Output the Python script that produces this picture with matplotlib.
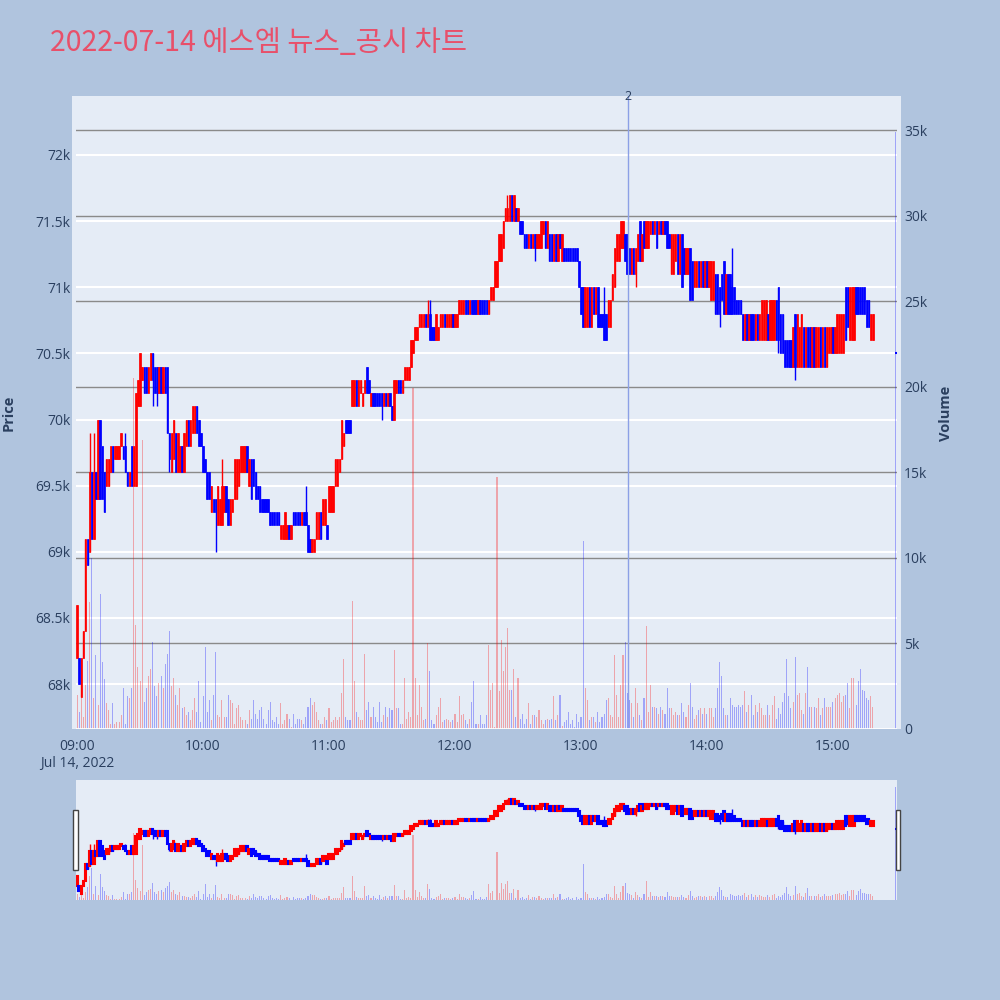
import matplotlib
matplotlib.use('Agg')
import numpy as np
import matplotlib.pyplot as plt
import matplotlib.transforms as mtransforms
from matplotlib.patches import Rectangle
from matplotlib.ticker import FuncFormatter

plt.rcParams['font.family'] = ['Open Sans', 'DejaVu Sans']

title = '2022-07-14 에스엠 뉴스_공시 차트'

# 1-minute candles 09:00 ~ 15:19, prices in units of 100 KRW
open_100 = [
    682, 682, 679, 682, 684, 691, 690, 696, 691, 696,  # 09:00
    694, 700, 698, 696, 695, 695, 696, 698, 697, 697,
    697, 698, 698, 698, 696, 695, 698, 695, 695, 701,
    701, 703, 704, 704, 702, 703, 705, 704, 704, 702,
    704, 702, 704, 704, 699, 696, 697, 699, 696, 696,
    698, 696, 698, 700, 698, 699, 699, 701, 700, 699,
    698, 697, 696, 696, 693, 694, 694, 692, 692, 692,  # 10:00
    693, 695, 694, 692, 693, 694, 694, 695, 696, 696,
    696, 698, 695, 697, 697, 696, 695, 695, 694, 694,
    694, 694, 693, 693, 693, 693, 693, 691, 691, 691,
    691, 692, 691, 693, 693, 693, 693, 692, 693, 693,
    692, 691, 690, 690, 691, 691, 693, 692, 692, 692,
    693, 693, 693, 695, 695, 696, 697, 698, 700, 700,  # 11:00
    700, 701, 701, 703, 701, 702, 701, 702, 704, 703,
    701, 702, 702, 702, 702, 702, 701, 702, 701, 702,
    701, 700, 702, 703, 703, 702, 703, 703, 703, 704,
    705, 706, 706, 707, 707, 707, 708, 707, 708, 707,
    707, 706, 706, 707, 707, 708, 707, 707, 707, 708,
    707, 707, 708, 708, 708, 709, 709, 708, 709, 709,  # 12:00
    709, 708, 709, 709, 709, 709, 708, 709, 709, 710,
    710, 712, 712, 713, 715, 715, 715, 717, 715, 716,
    715, 715, 715, 714, 714, 713, 714, 713, 714, 713,
    713, 713, 714, 715, 713, 714, 714, 712, 714, 712,
    714, 712, 713, 713, 713, 713, 713, 713, 713, 712,
    710, 710, 707, 707, 710, 707, 710, 708, 710, 708,  # 13:00
    708, 708, 708, 707, 707, 709, 710, 712, 712, 713,
    713, 714, 714, 713, 711, 713, 711, 712, 715, 712,
    715, 713, 713, 714, 715, 714, 715, 714, 715, 714,
    715, 715, 714, 711, 711, 712, 714, 711, 714, 713,
    711, 711, 713, 712, 710, 710, 712, 710, 712, 710,
    712, 710, 709, 709, 711, 711, 710, 711, 712, 708,  # 14:00
    711, 711, 710, 710, 709, 709, 709, 708, 706, 708,
    706, 708, 708, 706, 708, 706, 706, 706, 706, 708,
    706, 706, 706, 709, 710, 708, 708, 706, 706, 706,
    706, 704, 708, 704, 704, 704, 707, 704, 707, 707,
    704, 707, 704, 704, 707, 704, 707, 704, 705, 705,
    707, 705, 705, 705, 705, 705, 710, 710, 706, 706,  # 15:00
    706, 710, 710, 710, 710, 710, 709, 709, 706, 706,
]
close_100 = [
    686, 680, 682, 684, 691, 689, 696, 691, 696, 694,  # 09:00
    700, 694, 694, 693, 697, 697, 698, 696, 698, 698,
    698, 699, 697, 696, 695, 696, 695, 698, 702, 703,
    705, 704, 702, 702, 704, 705, 703, 702, 702, 704,
    702, 704, 702, 699, 697, 699, 700, 696, 699, 698,
    696, 699, 700, 698, 700, 701, 701, 699, 698, 698,
    696, 696, 694, 694, 695, 693, 693, 695, 694, 695,  # 10:00
    695, 693, 692, 694, 694, 697, 697, 697, 698, 698,
    698, 696, 697, 694, 695, 694, 694, 693, 693, 693,
    693, 693, 692, 692, 692, 692, 692, 692, 692, 693,
    692, 691, 692, 692, 692, 692, 692, 693, 692, 692,
    690, 690, 691, 691, 693, 693, 691, 694, 694, 691,
    695, 695, 695, 697, 697, 697, 700, 699, 699, 699,  # 11:00
    699, 703, 703, 701, 703, 703, 702, 703, 702, 702,
    702, 701, 701, 701, 701, 701, 702, 701, 702, 701,
    700, 703, 703, 702, 702, 703, 704, 704, 704, 706,
    706, 707, 707, 708, 708, 708, 707, 708, 706, 706,
    706, 708, 707, 708, 708, 707, 708, 708, 708, 707,
    708, 708, 709, 709, 709, 708, 708, 709, 708, 708,  # 12:00
    708, 709, 708, 708, 708, 708, 709, 710, 710, 712,
    712, 714, 714, 715, 716, 716, 717, 715, 717, 715,
    716, 714, 714, 713, 713, 714, 713, 714, 713, 714,
    714, 715, 715, 713, 715, 712, 712, 714, 712, 714,
    713, 714, 712, 712, 712, 712, 712, 712, 712, 710,
    708, 707, 710, 710, 707, 710, 708, 710, 707, 707,  # 13:00
    707, 706, 706, 709, 709, 711, 713, 714, 714, 715,
    715, 712, 711, 711, 713, 711, 713, 714, 712, 714,
    713, 715, 715, 715, 714, 715, 713, 715, 714, 715,
    714, 713, 713, 714, 714, 714, 711, 714, 710, 711,
    713, 713, 709, 709, 712, 712, 710, 712, 710, 712,
    710, 712, 712, 712, 708, 708, 708, 709, 708, 711,  # 14:00
    708, 708, 708, 708, 708, 708, 708, 706, 708, 706,
    708, 706, 706, 708, 706, 708, 709, 709, 709, 706,
    709, 709, 709, 706, 706, 705, 705, 704, 704, 704,
    704, 707, 704, 708, 707, 708, 704, 707, 704, 704,
    707, 704, 707, 707, 704, 707, 704, 707, 707, 707,
    705, 707, 708, 708, 708, 708, 706, 707, 710, 710,  # 15:00
    710, 708, 708, 708, 708, 708, 707, 707, 708, 708,
]

# wicks that reach past the body (minute index, price / 100)
wick_high_min = [6, 8, 23, 69, 109, 167, 168, 205, 251, 312]
wick_high_val = [699, 699, 699, 697, 695, 709, 709, 717, 710, 713]
wick_low_min = [36, 38, 44, 66, 145, 218, 266, 306, 334, 342]
wick_low_val = [701, 701, 696, 690, 700, 712, 710, 707, 705, 703]

# volume per minute, thousands of shares
volume_k = [
    2.0, 1.0, 1.9, 0.7, 2.6, 4.0, 7.4, 10.0, 1.8, 4.3,
    1.4, 7.9, 3.9, 2.9, 1.5, 1.1, 0.3, 1.5, 0.3, 0.4,
    0.4, 0.8, 2.4, 0.3, 1.9, 1.8, 2.4, 20.5, 6.1, 3.6,
    2.8, 16.9, 1.6, 2.4, 3.1, 3.5, 5.1, 2.5, 1.9, 2.7,
    3.1, 2.4, 3.8, 4.4, 5.7, 2.5, 3.0, 2.0, 1.4, 2.4,
    1.2, 1.3, 0.8, 1.0, 0.5, 1.1, 1.8, 1.0, 2.8, 0.4,
    1.9, 4.8, 1.0, 1.7, 0.5, 2.0, 4.5, 0.8, 0.7, 1.7,
    0.7, 0.7, 2.0, 1.7, 1.5, 0.3, 1.2, 1.4, 0.7, 0.5,
    0.5, 0.3, 1.1, 0.6, 1.7, 0.9, 0.6, 1.1, 1.3, 0.6,
    0.3, 1.1, 1.6, 0.5, 0.4, 0.7, 0.3, 1.5, 0.3, 0.5,
    0.9, 0.6, 0.1, 0.9, 0.3, 0.6, 0.6, 0.5, 0.3, 0.7,
    1.3, 1.8, 1.4, 1.6, 1.0, 0.5, 0.3, 0.3, 0.7, 0.5,
    1.2, 0.4, 0.5, 0.7, 0.5, 0.7, 2.1, 4.1, 0.7, 0.5,
    0.5, 7.5, 2.8, 1.0, 0.7, 0.5, 0.5, 4.4, 1.1, 1.6,
    0.7, 1.3, 0.7, 0.4, 1.6, 0.4, 0.8, 1.3, 0.7, 1.2,
    1.1, 4.6, 1.2, 1.2, 0.3, 0.3, 3.0, 0.6, 1.0, 0.7,
    19.9, 3.0, 0.8, 2.6, 1.3, 0.5, 0.6, 5.0, 3.4, 0.5,
    0.3, 0.8, 1.3, 1.8, 0.4, 0.5, 0.6, 0.5, 0.4, 0.5,
    0.9, 0.4, 1.9, 0.8, 0.9, 0.5, 0.3, 0.6, 1.6, 2.8,
    0.3, 0.3, 0.8, 0.3, 0.3, 0.8, 4.9, 2.3, 2.7, 0.1,
    14.7, 2.2, 5.2, 3.4, 4.8, 5.9, 2.3, 2.3, 3.5, 0.7,
    3.0, 0.6, 0.9, 0.3, 0.6, 1.5, 0.3, 0.8, 0.8, 0.7,
    1.1, 0.5, 0.3, 0.5, 0.6, 0.5, 0.6, 1.9, 0.5, 0.8,
    2.0, 0.2, 0.4, 0.5, 1.0, 0.3, 0.5, 0.1, 0.9, 0.4,
    0.7, 11.0, 2.4, 1.7, 0.5, 0.7, 0.7, 0.4, 1.0, 0.4,
    0.7, 0.9, 1.7, 1.8, 0.8, 0.7, 4.3, 2.0, 0.7, 2.6,
    4.3, 5.1, 2.1, 1.7, 1.5, 0.7, 2.4, 1.5, 0.8, 0.5,
    1.8, 6.0, 1.0, 2.6, 1.3, 1.3, 1.2, 0.9, 1.3, 1.1,
    0.9, 2.4, 1.2, 1.2, 0.8, 1.0, 0.8, 0.8, 1.5, 1.0,
    0.7, 1.4, 2.7, 1.3, 0.6, 0.8, 1.1, 1.2, 0.9, 1.2,
    0.9, 1.2, 1.2, 0.7, 1.2, 2.4, 3.9, 3.1, 1.2, 0.8,
    0.8, 1.8, 1.4, 1.3, 1.3, 1.4, 1.3, 1.4, 2.2, 1.0,
    1.4, 2.0, 0.8, 1.4, 1.0, 1.5, 1.2, 0.8, 0.8, 1.4,
    0.8, 1.4, 1.9, 0.6, 1.2, 0.9, 1.6, 2.1, 4.1, 1.9,
    1.2, 1.6, 4.2, 2.0, 2.1, 1.1, 0.9, 2.1, 3.6, 1.3,
    1.3, 1.3, 1.2, 1.8, 0.8, 1.2, 1.8, 1.3, 1.3, 1.3,
    1.6, 1.8, 2.0, 2.1, 1.6, 1.9, 2.0, 2.7, 1.2, 3.0,
    3.0, 1.4, 2.8, 3.5, 2.3, 2.2, 1.8, 1.7, 1.9, 1.3,
]

# closing auction (15:30)
auction_min = 390
auction_price_100 = 705
auction_volume_k = 34.9

news_times = ['13:22:24']
news_labels = ['2']

tick_minutes = [0, 60, 120, 180, 240, 300, 360]
tick_labels = ['09:00\nJul 14, 2022', '10:00', '11:00', '12:00', '13:00', '14:00', '15:00']

UP = '#FF0000'
DOWN = '#0000FF'
TEXT = '#2a3f5f'
PLOT_BG = '#E5ECF6'

price_lim = (67660, 72446)
vol_lim = (0, 36990)
x_lim = (-0.5, 390.5)


def draw_chart(ax, axv, wick_lw, edge_lw):
    x = np.arange(len(open_100))
    o = np.array(open_100) * 100
    c = np.array(close_100) * 100
    hi = np.maximum(o, c)
    lo = np.minimum(o, c)
    hi[wick_high_min] = np.array(wick_high_val) * 100
    lo[wick_low_min] = np.array(wick_low_val) * 100
    colors = np.where(c > o, UP, DOWN)

    # candles (wick + body)
    ax.vlines(x, lo, hi, colors=colors, lw=wick_lw, zorder=2)
    ax.bar(x, np.abs(c - o), bottom=np.minimum(o, c), width=0.7,
           color=colors, edgecolor=colors, lw=edge_lw, zorder=3)
    ax.hlines(auction_price_100 * 100, auction_min - 0.4, auction_min + 0.4,
              color=DOWN, lw=1.5, zorder=3)

    # volume on the right axis
    axv.bar(x, np.array(volume_k) * 1000, width=0.5, color=colors, alpha=0.3, lw=0)
    axv.bar([auction_min], [auction_volume_k * 1000], width=0.5, color=DOWN, alpha=0.3, lw=0)

    ax.set_xlim(*x_lim)
    ax.set_ylim(*price_lim)
    axv.set_ylim(*vol_lim)
    for a in (ax, axv):
        for s in a.spines.values():
            s.set_visible(False)


fig = plt.figure(figsize=(10, 10), dpi=100, facecolor='#B0C4DE')
fig.patches.append(Rectangle((0.072, 0.271), 0.829, 0.633, transform=fig.transFigure,
                             facecolor=PLOT_BG, edgecolor='none', zorder=-1))

# main chart
ax = fig.add_axes([0.076, 0.271, 0.821, 0.633])
ax.set_facecolor(PLOT_BG)
axv = ax.twinx()
axv.patch.set_visible(False)

ax.set_yticks(range(68000, 72001, 500))
ax.yaxis.set_major_formatter(FuncFormatter(lambda v, p: f'{v / 1000:g}k'))
ax.grid(axis='y', color='white', lw=1.5, zorder=0)
ax.set_axisbelow(True)

axv.set_yticks(range(0, 35001, 5000))
axv.yaxis.set_major_formatter(FuncFormatter(lambda v, p: '0' if v == 0 else f'{v / 1000:g}k'))

# volume grid drawn under the candles
vtrans = mtransforms.blended_transform_factory(ax.transAxes, axv.transData)
for v in range(5000, 35001, 5000):
    ax.plot([0, 1], [v, v], transform=vtrans, color='#8a8a8a', lw=1, zorder=1)

draw_chart(ax, axv, 1.0, 0.5)
axv.axhline(0, color='white', lw=2)

ax.set_xticks(tick_minutes)
ax.set_xticklabels(tick_labels)
ax.tick_params(axis='x', length=0, pad=7, labelsize=10, labelcolor=TEXT)
ax.tick_params(axis='y', length=0, pad=4, labelsize=10, labelcolor=TEXT)
axv.tick_params(axis='y', length=0, pad=5, labelsize=10, labelcolor=TEXT)

# news marker
ntrans = mtransforms.blended_transform_factory(ax.transData, ax.transAxes)
for t, lab in zip(news_times, news_labels):
    h, m, s = [int(p) for p in t.split(':')]
    xm = h * 60 + m + s / 60 - 9 * 60
    ax.axvline(xm, color='#8CA0E6', lw=1, zorder=4)
    ax.text(xm, 1.0, lab, transform=ntrans, ha='center', va='center', fontsize=9,
            color=TEXT, zorder=5, clip_on=False)

fig.text(0.009, 0.587, 'Price', rotation=90, ha='center', va='center',
         fontsize=10.5, fontweight='bold', color=TEXT)
fig.text(0.946, 0.587, 'Volume', rotation=90, ha='center', va='center',
         fontsize=10.5, fontweight='bold', color=TEXT)

fig.text(0.05, 0.9493, title, fontsize=20.5, color='#E8506A', va='baseline', ha='left',
         family=['Noto Sans CJK KR', 'DejaVu Sans'])

# range slider
axs = fig.add_axes([0.076, 0.1, 0.821, 0.12])
axs.set_facecolor(PLOT_BG)
axsv = axs.twinx()
axsv.patch.set_visible(False)
draw_chart(axs, axsv, 1.0, 1.5)
for a in (axs, axsv):
    a.set_xticks([])
    a.set_yticks([])

for hx in (0.0733, 0.8963):
    fig.patches.append(Rectangle((hx, 0.13), 0.0042, 0.06, transform=fig.transFigure,
                                 facecolor='white', edgecolor='#444444', lw=1, zorder=5))

fig.savefig('out.png', dpi=100, facecolor=fig.get_facecolor())
